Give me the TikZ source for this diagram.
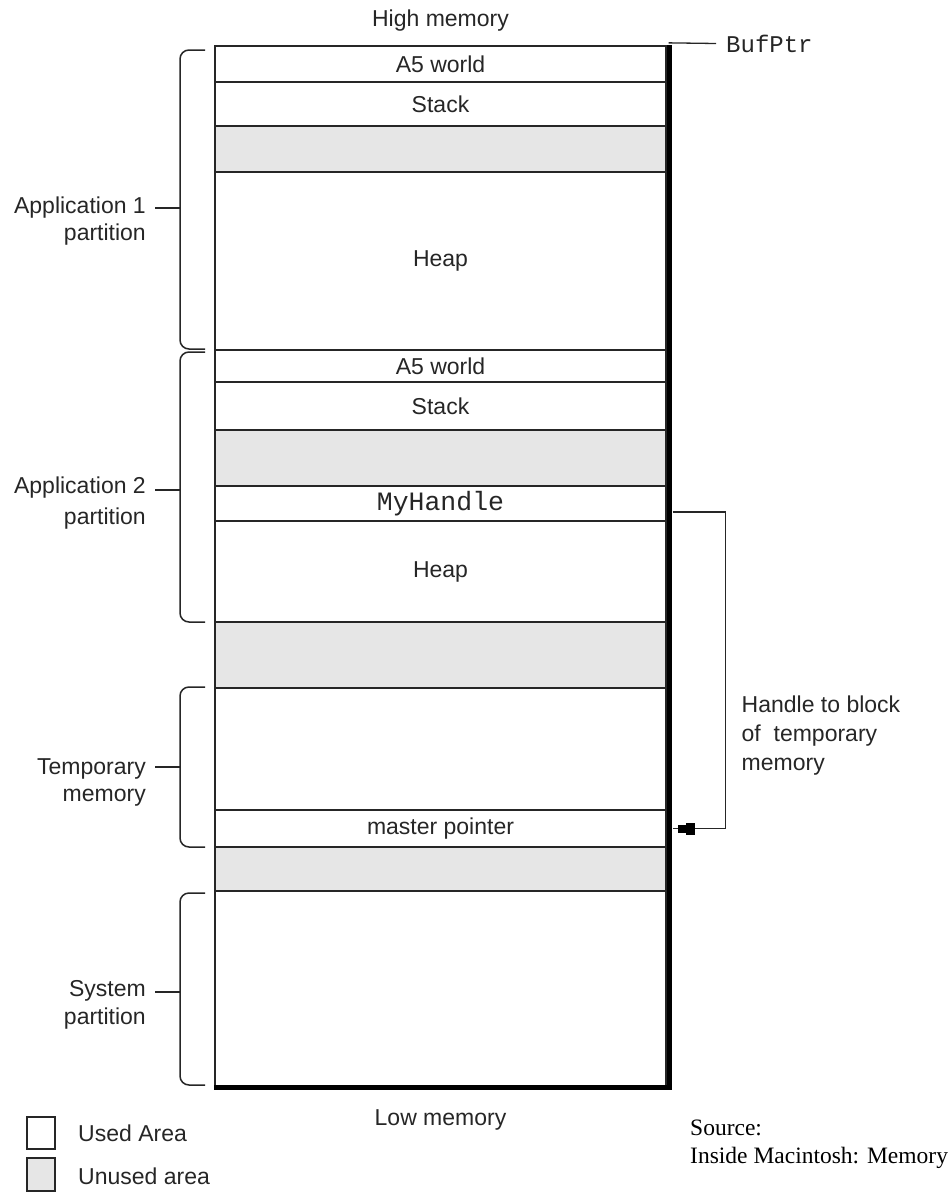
\documentclass[tikz,border=0pt]{standalone}
\usepackage{fontspec}
\setmainfont{Liberation Sans}
\setmonofont{Liberation Mono}
\newfontfamily\srcfont{Liberation Serif}
\definecolor{unused}{HTML}{E6E6E6}
\definecolor{ink}{HTML}{262626}
\begin{document}
\begin{tikzpicture}[x=1pt,y=-1pt,
  txt/.style={font=\fontsize{23}{27}\selectfont, text=ink, inner sep=0pt},
  mono/.style={font=\ttfamily\fontsize{24}{28}\selectfont, text=ink, inner sep=0pt},
  cell/.style={draw=ink, line width=1.3pt, minimum width=451pt, inner sep=0pt,
               font=\fontsize{23}{27}\selectfont, text=ink},
  used/.style={cell, fill=white},
  free/.style={cell, fill=unused},
  wire/.style={draw=ink, line width=1.3pt},
  bracket/.style={draw=ink, line width=1.5pt, rounded corners=9pt},
  shadowline/.style={draw=black, line width=5pt, line join=miter},
  source/.style={font=\srcfont\fontsize{23.5}{28}\selectfont, text=black, inner sep=0pt},
]
\useasboundingbox (0,0) rectangle (951,1192);

% ---------- memory cells ----------
\node[used, minimum height=36pt]  (a1w) at (440.5,64)    {A5 world};
\node[used, minimum height=44pt]  (a1s) at (440.5,104)   {Stack};
\node[free, minimum height=46pt]  (a1u) at (440.5,149)   {};
\node[used, minimum height=178pt] (a1h) at (440.5,261)   {Heap};
\node[used, minimum height=32pt]  (a2w) at (440.5,366)   {A5 world};
\node[used, minimum height=48pt]  (a2s) at (440.5,406)   {Stack};
\node[free, minimum height=56pt]  (a2u) at (440.5,458)   {};
\node[used, minimum height=35pt, font=\ttfamily\fontsize{26.5}{30}\selectfont] (hnd) at (440.5,503.5) {MyHandle};
\node[used, minimum height=101pt] (a2h) at (440.5,571.5) {Heap};
\node[free, minimum height=66pt]  (fr1) at (440.5,655)   {};
\node[used, minimum height=122pt] (tmp) at (440.5,749)   {};
\node[used, minimum height=37pt]  (mp)  at (440.5,828.5) {master pointer};
\node[free, minimum height=44pt]  (fr2) at (440.5,869)   {};
\node[used, minimum height=195pt] (sys) at (440.5,988.5) {};

% thick right/bottom edge
\draw[shadowline] ([xshift=3pt]a1w.north east) |- ([yshift=-1pt]sys.south west);

% ---------- top / bottom captions ----------
\node[txt, anchor=base] (high) at (440.5,26.7) {High memory};
\node[txt, anchor=base] (low)  at (440.5,1125.7) {Low memory};

% BufPtr
\node[mono, anchor=base west] (bufptr) at (726,52.5) {BufPtr};
\coordinate (bpend) at (716,43.5);
\draw[wire] ([xshift=2pt,yshift=2.5pt]a1w.north east) -- (bpend);

% ---------- partition brackets ----------
\draw[bracket] (205,50) -- (180,50) -- (180,349) -- (205,349);
\draw[wire] (155,208) -- (180,208);
\node[txt, align=right, anchor=north east, font=\fontsize{23}{27}\selectfont] (app1) at (146,196.5) {Application 1\\partition};

\draw[bracket] (205,352) -- (180,352) -- (180,622) -- (205,622);
\draw[wire] (155,490) -- (180,490);
\node[txt, align=right, anchor=north east, font=\fontsize{23}{31}\selectfont] (app2) at (146,476.5) {Application 2\\partition};

\draw[bracket] (205,687) -- (180,687) -- (180,847) -- (205,847);
\draw[wire] (155,767) -- (180,767);
\node[txt, align=right, anchor=north east, font=\fontsize{23}{27}\selectfont] (temp) at (146,758.5) {Temporary\\memory};

\draw[bracket] (205,893) -- (180,893) -- (180,1085) -- (205,1085);
\draw[wire] (155,992) -- (180,992);
\node[txt, align=right, anchor=north east, font=\fontsize{23}{28}\selectfont] (syst) at (146,980.5) {System\\partition};

% ---------- handle connector ----------
\coordinate (hs) at ([xshift=6pt,yshift=-8.5pt]hnd.east);
\coordinate (me) at ([xshift=6pt]mp.east);
\draw[wire] (hs) -- ++(53,0) |- (me);
\fill[black] ([xshift=5pt,yshift=4pt]me) rectangle ([xshift=13pt,yshift=-4pt]me);
\fill[black] ([xshift=13pt,yshift=6pt]me) rectangle ([xshift=22pt,yshift=-6pt]me);
\node[txt, align=left, anchor=north west, font=\fontsize{23}{29}\selectfont] (hlabel) at (741.5,695.2) {Handle to block\\of~ temporary\\memory};

% ---------- legend ----------
\node[draw=ink, line width=1.3pt, fill=white, minimum width=28pt, minimum height=32pt, inner sep=0pt] (legu) at (41,1133) {};
\node[draw=ink, line width=1.3pt, fill=unused, minimum width=28pt, minimum height=33pt, inner sep=0pt] (legf) at (41,1174.5) {};
\node[txt, anchor=base west] (legut) at (78,1141.7) {Used Area};
\node[txt, anchor=base west] (legft) at (78,1184.3) {Unused area};

% ---------- source ----------
\node[source, anchor=base west] (src1) at (690,1135) {Source:};
\node[source, anchor=base west] (src2) at (690,1163) {Inside Macintosh: Memory};
\end{tikzpicture}
\end{document}
